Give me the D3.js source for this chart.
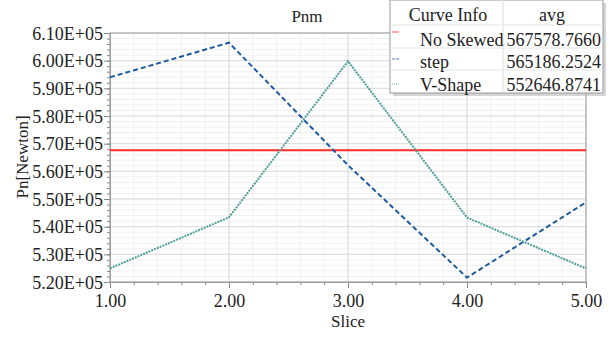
<!doctype html>
<head>
  <title>Pnm</title>
</head>
<style>
  body { margin: 0; background: #fff; }
</style>
<body>
  <script src="https://cdn.jsdelivr.net/npm/d3@7"></script>
  <svg id="chart" width="614" height="337"></svg>
  <script>

  // data
  const slices = [1, 2, 3, 4, 5];
  const noSkewed = [567578.766, 567578.766, 567578.766, 567578.766, 567578.766];
  const step = [594000, 606500, 562200, 521600, 548800];
  const vShape = [524900, 543400, 599800, 543300, 524900];

  const seriesNames = ["No Skewed", "step", "V-Shape"];
  const seriesAvg = ["567578.7660", "565186.2524", "552646.8741"];
  const yTicks = [520000, 530000, 540000, 550000, 560000, 570000, 580000, 590000, 600000, 610000];

  const serif = "'Liberation Serif', 'Times New Roman', serif";

  let svg = d3.select("#chart"),
    width = +svg.attr("width"),
    height = +svg.attr("height");

  const pLeft = 110, pRight = 586, pTop = 33, pBottom = 282;

  let x = d3.scaleLinear().domain([1, 5]).range([pLeft, pRight]);
  let y = d3.scaleLinear().domain([520000, 610000]).range([pBottom, pTop]);

  // grid - minor then major
  let minorX = d3.range(1, 5.001, 0.2);
  let minorY = d3.range(520000, 610001, 2000);
  let grid = svg.append("g");
  grid.selectAll(".mx").data(minorX).enter().append("line")
    .attr("x1", d => x(d)).attr("x2", d => x(d))
    .attr("y1", pTop).attr("y2", pBottom)
    .attr("stroke", "#f0f0f0");
  grid.selectAll(".my").data(minorY).enter().append("line")
    .attr("x1", pLeft).attr("x2", pRight)
    .attr("y1", d => y(d)).attr("y2", d => y(d))
    .attr("stroke", "#f0f0f0");
  grid.selectAll(".Mx").data(slices).enter().append("line")
    .attr("x1", d => x(d)).attr("x2", d => x(d))
    .attr("y1", pTop).attr("y2", pBottom)
    .attr("stroke", "#dcdcdc");
  grid.selectAll(".My").data(yTicks).enter().append("line")
    .attr("x1", pLeft).attr("x2", pRight)
    .attr("y1", d => y(d)).attr("y2", d => y(d))
    .attr("stroke", "#dcdcdc");

  // frame
  svg.append("rect")
    .attr("x", pLeft).attr("y", pTop)
    .attr("width", pRight - pLeft).attr("height", pBottom - pTop)
    .attr("fill", "none").attr("stroke", "#a0a0a0");

  // axes
  svg.append("g")
    .attr("transform", "translate(0," + pBottom + ")")
    .call(d3.axisBottom(x).tickValues(slices).tickFormat(d3.format(".2f")).tickSize(6).tickPadding(6));
  svg.append("g")
    .attr("transform", "translate(0," + pBottom + ")")
    .call(d3.axisBottom(x).tickValues(minorX).tickFormat("").tickSize(3));

  let yAxis = svg.append("g")
    .attr("transform", "translate(" + pLeft + ",0)")
    .call(d3.axisLeft(y).tickValues(yTicks)
      .tickFormat(d => (d / 1e5).toFixed(2) + "E+05").tickSize(6).tickPadding(1));
  svg.append("g")
    .attr("transform", "translate(" + pLeft + ",0)")
    .call(d3.axisLeft(y).tickValues(minorY).tickFormat("").tickSize(3));

  svg.selectAll(".domain").attr("stroke", "#a0a0a0");
  svg.selectAll(".tick line").attr("stroke", "#888");
  svg.selectAll(".tick text")
    .attr("font-family", serif).attr("font-size", 18)
    .attr("fill", "#222");
  yAxis.selectAll(".tick text").attr("dy", "0.35em");

  function label(txt, size) {
    return svg.append("text")
      .attr("font-family", serif).attr("font-size", size)
      .attr("fill", "#222").attr("text-anchor", "middle")
      .text(txt);
  }

  // titles
  label("Pnm", 17).attr("x", width / 2).attr("y", 22);
  label("Slice", 17).attr("x", x(3)).attr("y", 327);
  label("Pn[Newton]", 17).attr("transform", "translate(28,157) rotate(-90)");

  // lines
  let line = d3.line().x((d, i) => x(slices[i])).y(d => y(d));
  const styles = [
    {data: noSkewed, color: "#ff2a2a", dash: null, w: 2},
    {data: step, color: "#1d5aa0", dash: "5,3", w: 2},
    {data: vShape, color: "#4f9e98", dash: "2,1", w: 2}
  ];
  svg.append("g").selectAll("path")
    .data(styles)
    .enter()
    .append("path")
    .attr("d", d => line(d.data))
    .attr("fill", "none")
    .attr("stroke", d => d.color)
    .attr("stroke-width", d => d.w)
    .attr("stroke-dasharray", d => d.dash);

  // legend table
  const lx = 390, lw = 213, sep = 503, ly = 0;
  let lg = svg.append("g");
  lg.append("rect").attr("x", lx + 3).attr("y", ly + 3).attr("width", lw).attr("height", 93)
    .attr("fill", "#bbb").attr("opacity", 0.6);
  lg.append("rect").attr("x", lx).attr("y", ly).attr("width", lw).attr("height", 93)
    .attr("fill", "#fff").attr("stroke", "#999");
  lg.append("line").attr("x1", sep).attr("x2", sep).attr("y1", ly).attr("y2", ly + 93)
    .attr("stroke", "#ddd");
  [25, 48, 70].forEach(yy => {
    lg.append("line").attr("x1", lx).attr("x2", lx + lw).attr("y1", yy).attr("y2", yy)
      .attr("stroke", "#e4e4e4");
  });
  label("Curve Info", 18).attr("x", 448).attr("y", 21);
  label("avg", 18).attr("x", 552).attr("y", 21);
  const rowBase = [46, 68, 91], sampleY = [32, 59, 84];
  seriesNames.forEach((n, i) => {
    lg.append("line").attr("x1", 392).attr("x2", 399)
      .attr("y1", sampleY[i]).attr("y2", sampleY[i])
      .attr("stroke", styles[i].color).attr("stroke-width", 1)
      .attr("stroke-dasharray", i == 1 ? "3,1" : (i == 2 ? "1,1" : null))
      .attr("opacity", 0.8);
    label(n, 18).attr("x", 420).attr("y", rowBase[i]).attr("text-anchor", "start");
    label(seriesAvg[i], 18).attr("x", 601).attr("y", rowBase[i]).attr("text-anchor", "end");
  });

  </script>
</body>
